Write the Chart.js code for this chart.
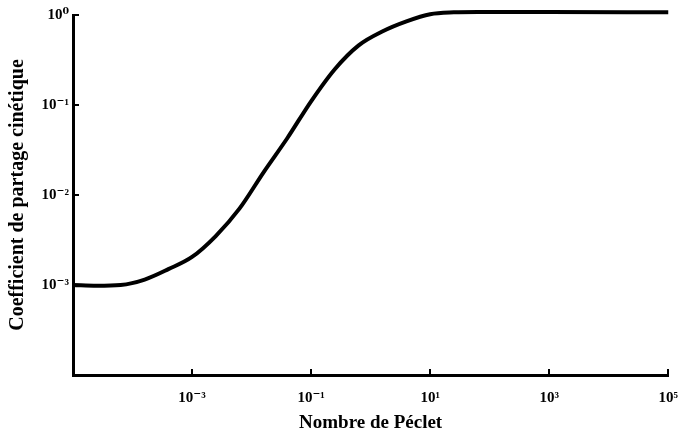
<!DOCTYPE html>
<html>
<head>
<meta charset="utf-8">
<script src="https://cdn.jsdelivr.net/npm/chart.js@4/dist/chart.umd.min.js"></script>
<style>
    html, body { margin: 0; padding: 0; background: #fff; }
    #wrapper { width: 692px; height: 435px; }
</style>
</head>
<body>
<div id="wrapper"><canvas id="chart"></canvas></div>
<script>
// Data (log-log)
const pecletValues = [1e-5, 2.5e-5, 6.3e-5, 1.6e-4, 4e-4, 1e-3, 2.5e-3, 6.3e-3, 1.6e-2, 4e-2,
                      0.1, 0.25, 0.63, 1.6, 4, 10, 25, 63, 1000, 1e5];
const coeffValues = [1.0e-3, 0.98e-3, 1.0e-3, 1.15e-3, 1.5e-3, 2.05e-3, 3.5e-3, 7.1e-3, 1.8e-2, 4.3e-2,
                     0.11, 0.25, 0.46, 0.66, 0.85, 1.02, 1.07, 1.08, 1.08, 1.07];
const xTickValues = [1e-3, 1e-1, 1e1, 1e3, 1e5];
const yTickValues = [1e-3, 1e-2, 1e-1, 1e0];
const xTitle = 'Nombre de Péclet';
const yTitle = 'Coefficient de partage cinétique';

const SUP = {'-': '⁻', '0': '⁰', '1': '¹', '2': '²', '3': '³', '4': '⁴', '5': '⁵'};
function powLabel(v) {
    let e = Math.round(Math.log10(v)).toString();
    let s = '';
    for (let c of e) s += SUP[c];
    return '10' + s;
}

function log(arg) {
    console.log(arg);
}

// inward tick marks like the printed figure
const inwardTicks = {
    id: 'inwardTicks',
    afterDatasetsDraw(chart) {
        let ctx = chart.ctx;
        let xs = chart.scales.x;
        let ys = chart.scales.y;
        let area = chart.chartArea;
        ctx.save();
        ctx.strokeStyle = '#000';
        ctx.lineWidth = 2;
        ctx.beginPath();
        for (let v of xTickValues) {
            let px = Math.round(xs.getPixelForValue(v));
            ctx.moveTo(px, area.bottom);
            ctx.lineTo(px, area.bottom - 6);
        }
        for (let v of yTickValues) {
            let py = Math.round(ys.getPixelForValue(v));
            ctx.moveTo(area.left, py);
            ctx.lineTo(area.left + 6, py);
        }
        ctx.stroke();
        ctx.restore();
    }
};

const tickFont = {family: "'Liberation Serif', 'DejaVu Serif', serif", size: 15, weight: 'bold'};

let ctx = document.getElementById('chart').getContext('2d');
let chart = new Chart(ctx, {
    type: 'line',
    data: {
        datasets: [{
            data: pecletValues.map((x, i) => ({x: x, y: coeffValues[i]})),
            borderColor: '#000',
            borderWidth: 4,
            pointRadius: 0,
            fill: false,
            cubicInterpolationMode: 'monotone',
            clip: false
        }]
    },
    options: {
        responsive: true,
        maintainAspectRatio: false,
        animation: false,
        layout: {padding: {top: 15, right: 19, left: 0, bottom: 0}},
        plugins: {legend: {display: false}, tooltip: {enabled: false}},
        scales: {
            x: {
                type: 'logarithmic',
                min: 1e-5,
                max: 1e5,
                afterBuildTicks: (scale) => { scale.ticks = xTickValues.map(v => ({value: v})); },
                afterFit: (scale) => { scale.height = 60; },
                grid: {display: true, drawOnChartArea: false, drawTicks: false},
                border: {display: true, color: '#000', width: 3},
                ticks: {
                    color: '#000',
                    font: tickFont,
                    padding: 14,
                    maxRotation: 0,
                    autoSkip: false,
                    callback: (v) => powLabel(v)
                },
                title: {
                    display: true,
                    text: xTitle,
                    color: '#000',
                    font: {family: "'Liberation Serif', serif", size: 19, weight: 'bold'},
                    padding: {top: 0, bottom: 1}
                }
            },
            y: {
                type: 'logarithmic',
                min: 1e-4,
                max: 1,
                afterBuildTicks: (scale) => { scale.ticks = yTickValues.map(v => ({value: v})); },
                afterFit: (scale) => { scale.width = 73; },
                grid: {display: true, drawOnChartArea: false, drawTicks: false},
                border: {display: true, color: '#000', width: 3},
                ticks: {
                    color: '#000',
                    font: tickFont,
                    padding: 4,
                    autoSkip: false,
                    callback: (v) => powLabel(v)
                },
                title: {
                    display: true,
                    text: yTitle,
                    color: '#000',
                    font: {family: "'Liberation Serif', serif", size: 20, weight: 'bold'},
                    padding: {top: 6, bottom: 0}
                }
            }
        }
    },
    plugins: [inwardTicks]
});
log(chart.chartArea);
</script>
</body>
</html>
